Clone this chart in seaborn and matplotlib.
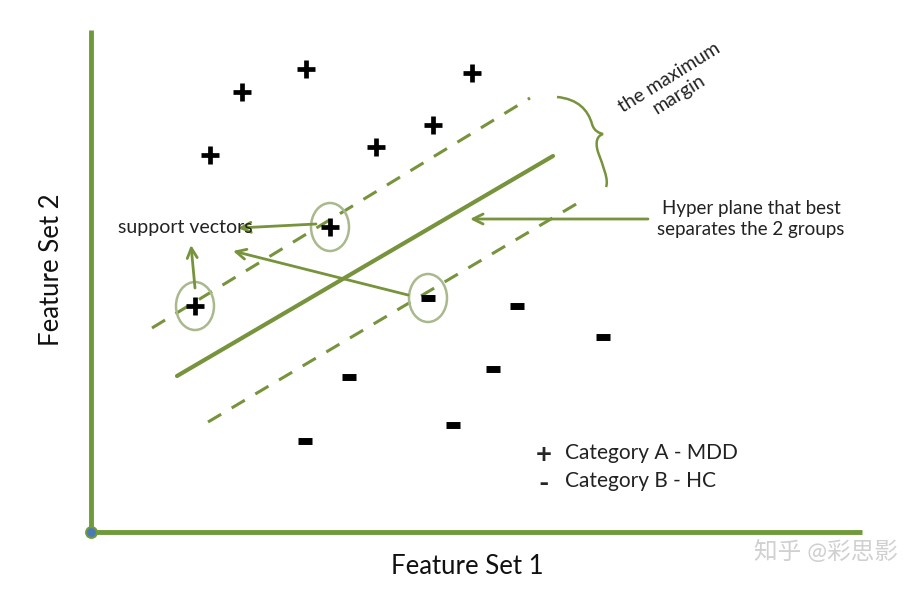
"""SVM maximum-margin diagram, seaborn version"""
import matplotlib
matplotlib.use("Agg")
import matplotlib.pyplot as plt
import seaborn as sns
import pandas as pd
from matplotlib.patches import Ellipse, PathPatch
from matplotlib.path import Path

sns.set_style("white")
plt.rcParams["font.family"] = ["Lato", "Noto Sans CJK SC", "DejaVu Sans"]

GREEN = "#77933c"

# class A (+) and class B (-) sample positions, diagram units
plus_x = [210, 242, 306, 376, 433, 472, 330, 195]
plus_y = [155, 92, 69, 147, 125, 73, 227, 306]
minus_x = [428, 517, 603, 349, 493, 453, 305]
minus_y = [298, 306, 337, 377, 369, 425, 441]

# support vectors (circled)
sv_x = [330, 195, 428]
sv_y = [227, 306, 298]

# separating hyperplane and margin boundaries (x0, y0, x1, y1)
hyperplane = (177, 376, 553, 156)
margin_upper = (152, 328, 530, 98)
margin_lower = (208, 422, 583, 200)

df = pd.DataFrame(
    {
        "x": plus_x + minus_x,
        "y": plus_y + minus_y,
        "cls": ["A"] * len(plus_x) + ["B"] * len(minus_x),
    }
)

fig = plt.figure(figsize=(9.2, 5.94), dpi=100)
ax = fig.add_axes([0, 0, 1, 1])

# axes of the feature space
ax.plot([91, 91], [30, 532], color="#6f9a3a", lw=3.5, solid_capstyle="butt", zorder=2)
ax.plot([91, 862], [532, 532], color="#6f9a3a", lw=3.5, solid_capstyle="butt", zorder=2)
ax.scatter([91], [532], s=60, color="#4a78b8", edgecolor="#6f9a3a", lw=1.5, zorder=3)

# margin lines
for seg, ls, lw in [(hyperplane, "-", 3), (margin_upper, (0, (5, 4)), 2.2), (margin_lower, (0, (5, 4)), 2.2)]:
    ax.plot([seg[0], seg[2]], [seg[1], seg[3]], color=GREEN, ls=ls, lw=lw, zorder=2)

# support vector circles
for x, y in zip(sv_x, sv_y):
    ax.add_patch(Ellipse((x, y), 38, 48, facecolor="none", edgecolor="#a9b98d", lw=1.8, zorder=3))

# points
sns.scatterplot(
    data=df[df["cls"] == "A"], x="x", y="y", marker="+", s=170,
    color="black", linewidth=3.4, ax=ax, zorder=4, legend=False,
)
sns.scatterplot(
    data=df[df["cls"] == "B"], x="x", y="y", marker="_", s=110,
    color="black", linewidth=5, ax=ax, zorder=4, legend=False,
)
ax.set_xlim(0, 920)
ax.set_ylim(594, 0)
ax.axis("off")

# arrows
arrow = dict(arrowstyle="->", color=GREEN, lw=2, mutation_scale=18, shrinkA=0, shrinkB=0)
ax.annotate("", xy=(238, 228), xytext=(316, 224), arrowprops=arrow, zorder=3)
ax.annotate("", xy=(191, 245), xytext=(195, 288), arrowprops=arrow, zorder=3)
ax.annotate("", xy=(233, 251), xytext=(408, 295), arrowprops=arrow, zorder=3)
ax.annotate("", xy=(470, 219), xytext=(648, 219), arrowprops=arrow, zorder=3)

# curly brace for the margin
verts = [
    (557, 97), (578, 99), (588, 110), (592, 124),
    (594, 131), (599, 133), (603, 134),
    (597, 136), (595, 142), (598, 152),
    (603, 166), (609, 180), (606, 187),
]
codes = [Path.MOVETO] + [Path.CURVE4] * 12
ax.add_patch(PathPatch(Path(verts, codes), facecolor="none", edgecolor=GREEN, lw=1.8))

# texts
ax.text(185, 227, "support vectors", fontsize=14, ha="center", va="center", color="#222222")
ax.text(751, 219, "Hyper plane that best\nseparates the 2 groups", fontsize=13.5,
        ha="center", va="center", color="#222222", linespacing=1.3)
ax.text(674, 86, "the maximum\nmargin", fontsize=14, ha="center", va="center",
        rotation=32, color="#222222", linespacing=1.15)
ax.text(52, 270, "Feature Set 2", fontsize=18.5, rotation=90, ha="center", va="center", color="#111111")
ax.text(467, 567, "Feature Set 1", fontsize=18.5, ha="center", va="center", color="#111111")

# legend
ax.text(544, 455, "+", fontsize=20, fontweight="bold", ha="center", va="center")
ax.text(544, 484, "-", fontsize=20, fontweight="bold", ha="center", va="center")
ax.text(565, 453, "Category A - MDD", fontsize=15, ha="left", va="center", color="#222222")
ax.text(565, 481, "Category B - HC", fontsize=15, ha="left", va="center", color="#222222")

# watermark
ax.text(826, 551, "知乎 @彩思影", fontsize=17, ha="center", va="center", color="#d0d0d0")

fig.savefig("out.png", dpi=100)
